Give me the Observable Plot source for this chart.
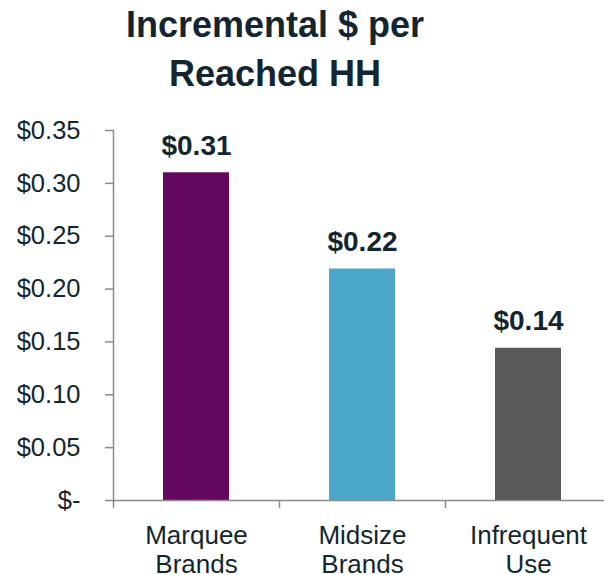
<!DOCTYPE html>
<html>
<head>
<meta charset="utf-8">
<script src="https://cdn.jsdelivr.net/npm/d3@7"></script>
<script src="https://cdn.jsdelivr.net/npm/@observablehq/plot@0.6"></script>
<style>
  html, body { margin: 0; padding: 0; background: #fff; }
  body { width: 604px; height: 575px; overflow: hidden; font-family: "Liberation Sans", Arial, sans-serif; }
  #title { width: 550px; text-align: center; font-size: 36px; font-weight: bold; line-height: 49px; color: #13262f; height: 98px; }
  svg { display: block; }
</style>
</head>
<body>
<div id="title">Incremental $ per<br>Reached HH</div>
<div id="chart"></div>
<script>
const categories = ["Marquee Brands", "Midsize Brands", "Infrequent Use"];
const tickLabels = ["Marquee\nBrands", "Midsize\nBrands", "Infrequent\nUse"];
const values = [0.31, 0.219, 0.144];
const valueLabels = ["$0.31", "$0.22", "$0.14"];
const colors = ["#63075f", "#4aa7c9", "#595959"];
const yTicks = [0, 0.05, 0.10, 0.15, 0.20, 0.25, 0.30, 0.35];

const data = categories.map((c, i) => ({cat: c, value: values[i], label: valueLabels[i], color: colors[i]}));
const textColor = "#13262f";
const axisColor = "#8a8a8a";

const chart = Plot.plot({
  width: 604,
  height: 477,
  marginTop: 32,
  marginBottom: 75,
  marginLeft: 113,
  marginRight: 0,
  style: {fontFamily: "'Liberation Sans', Arial, sans-serif", color: textColor, background: "#fff"},
  x: {domain: categories, range: [113, 611], paddingInner: 0.6, paddingOuter: 0.3, axis: null, label: null},
  y: {domain: [0, 0.35], axis: null, label: null},
  marks: [
    Plot.barY(data, {x: "cat", y: "value", fill: "color"}),
    Plot.frame({anchor: "left", stroke: axisColor, strokeWidth: 1.5}),
    Plot.ruleY([0], {stroke: axisColor, strokeWidth: 1.5}),
    Plot.axisY({ticks: yTicks, label: null, tickSize: 8, tickPadding: 25, fontSize: 25.5, stroke: axisColor, strokeWidth: 1.5, fill: textColor,
      tickFormat: d => d === 0 ? "$-" : "$" + d.toFixed(2)}),
    Plot.axisX({text: null, label: null, tickSize: 8, dx: -83, stroke: axisColor, strokeWidth: 1.5}),
    Plot.axisX({tickSize: 0, label: null, tickPadding: 23, fontSize: 26, lineHeight: 1.11, fill: textColor,
      tickFormat: d => tickLabels[categories.indexOf(d)]}),
    Plot.text(data, {x: "cat", y: "value", text: "label", dy: -18, lineAnchor: "bottom", fontSize: 28, fontWeight: "bold", fill: textColor})
  ]
});
document.getElementById("chart").appendChild(chart);
</script>
</body>
</html>
